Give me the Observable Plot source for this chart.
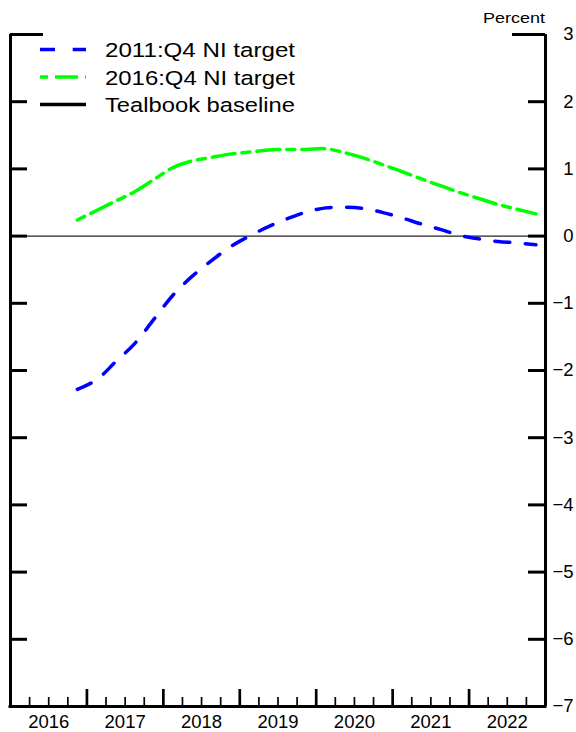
<!DOCTYPE html>
<html>
<head>
<meta charset="utf-8">
<script src="https://cdn.jsdelivr.net/npm/d3@7"></script>
<script src="https://cdn.jsdelivr.net/npm/@observablehq/plot@0.6"></script>
<style>
  html, body { margin: 0; padding: 0; background: #fff; }
  #chart { width: 576px; height: 732px; }
</style>
</head>
<body>
<div id="chart"></div>
<script>
// ---- Data ----
const quarters = [
  "2016Q4",
  "2017Q1","2017Q2","2017Q3","2017Q4",
  "2018Q1","2018Q2","2018Q3","2018Q4",
  "2019Q1","2019Q2","2019Q3","2019Q4",
  "2020Q1","2020Q2","2020Q3","2020Q4",
  "2021Q1","2021Q2","2021Q3","2021Q4",
  "2022Q1","2022Q2","2022Q3","2022Q4"
];
const ni2011 = [-2.28,-2.14,-1.87,-1.60,-1.24,-0.88,-0.60,-0.37,-0.16,0.00,0.14,0.26,0.36,0.42,0.43,0.41,0.35,0.27,0.18,0.10,0.01,-0.04,-0.08,-0.10,-0.13];
const ni2016 = [0.24,0.38,0.52,0.66,0.84,1.02,1.12,1.17,1.22,1.25,1.28,1.29,1.29,1.30,1.24,1.16,1.06,0.96,0.85,0.75,0.65,0.56,0.47,0.40,0.33];
const tealbookBaseline = [0];
const years = [2016, 2017, 2018, 2019, 2020, 2021, 2022];
const yTicks = [-7, -6, -5, -4, -3, -2, -1, 0, 1, 2, 3];
const seriesNames = ["2011:Q4 NI target", "2016:Q4 NI target", "Tealbook baseline"];
const seriesColors = ["#0000ff", "#00ff00", "#000000"];
const unitLabel = "Percent";

// ---- Layout ----
const W = 576, H = 732;
const mL = 10, mR = 31, mT = 34, mB = 26;
const plotW = W - mL - mR, plotH = H - mT - mB;
const FONT = "'Liberation Sans', Arial, Helvetica, sans-serif";

const qToX = q => { const [y, qq] = q.split("Q"); return +y + (+qq - 0.5) / 4; };
const blueRows = quarters.map((q, i) => ({x: qToX(q), v: ni2011[i]}));
const greenRows = quarters.map((q, i) => ({x: qToX(q), v: ni2016[i]}));

const domainX = [years[0], years[years.length - 1] + 1];
const quarterTicks = years.flatMap(y => [y + 0.25, y + 0.5, y + 0.75]);
const yearBounds = years.slice(1);
const innerY = yTicks.filter(v => v > yTicks[0] && v < yTicks[yTicks.length - 1]);
const topY = [yTicks[yTicks.length - 1]];
const fmt = d => d < 0 ? "\u2212" + Math.abs(d) : String(d);

const chart = Plot.plot({
  width: W, height: H,
  marginLeft: mL, marginRight: mR, marginTop: mT, marginBottom: mB,
  x: {domain: domainX, axis: null},
  y: {domain: [yTicks[0], yTicks[yTicks.length - 1]], axis: null},
  style: {fontFamily: FONT, background: "white", color: "black", overflow: "visible"},
  marks: [
    Plot.ruleY(tealbookBaseline, {y: d => d, stroke: "#222", strokeWidth: 1.2}),
    Plot.line(blueRows, {x: "x", y: "v", stroke: seriesColors[0], strokeWidth: 3.5, strokeDasharray: "15,15.5", curve: "catmull-rom"}),
    Plot.line(greenRows, {x: "x", y: "v", stroke: seriesColors[1], strokeWidth: 3.5, strokeDasharray: "8,7,23,7", curve: "catmull-rom"}),
    // y ticks (inward) on both sides
    Plot.tickY(innerY, {y: d => d, stroke: "black", strokeWidth: 3, insetRight: plotW - 17}),
    Plot.tickY(topY, {y: d => d, stroke: "black", strokeWidth: 3, insetRight: plotW - 33}),
    Plot.tickY(innerY, {y: d => d, stroke: "black", strokeWidth: 3, insetLeft: plotW - 17}),
    Plot.tickY(topY, {y: d => d, stroke: "black", strokeWidth: 3, insetLeft: plotW - 33}),
    // x ticks
    Plot.tickX(quarterTicks, {x: d => d, stroke: "black", strokeWidth: 1.7, insetTop: plotH - 9}),
    Plot.tickX(yearBounds, {x: d => d, stroke: "black", strokeWidth: 2.7, insetTop: plotH - 17}),
    // frame (left, right, bottom)
    Plot.ruleX(domainX, {x: d => d, stroke: "black", strokeWidth: 3}),
    Plot.ruleY([yTicks[0]], {y: d => d, stroke: "black", strokeWidth: 3, strokeLinecap: "square"}),
    // labels
    Plot.text(years, {x: d => d + 0.5, frameAnchor: "bottom", dy: 16, text: d => String(d), fontSize: 18.5, lineAnchor: "middle", fill: "black"}),
    Plot.text(yTicks, {y: d => d, frameAnchor: "right", dx: 28, textAnchor: "end", text: fmt, fontSize: 18.5, lineAnchor: "middle", fill: "black"})
  ]
});

document.getElementById("chart").appendChild(chart);

// ---- Legend & unit label ----
const svg = d3.select(chart);
const dashes = ["15,17.7", "8,7,23,7", null];
const lg = svg.append("g").attr("font-family", FONT).attr("text-anchor", "start");
seriesNames.forEach((name, i) => {
  const yb = 57.3 + i * 27.5;
  const ln = lg.append("line")
    .attr("x1", 40).attr("x2", 86)
    .attr("y1", yb - 7.8).attr("y2", yb - 7.8)
    .attr("stroke", seriesColors[i]).attr("stroke-width", 3.5);
  if (dashes[i]) ln.attr("stroke-dasharray", dashes[i]);
  lg.append("text")
    .attr("x", 105).attr("y", yb)
    .attr("text-anchor", "start")
    .attr("font-size", 20.5)
    .attr("fill", "black")
    .attr("textLength", 190)
    .attr("lengthAdjust", "spacingAndGlyphs")
    .text(name);
});
svg.append("text")
  .attr("x", 483).attr("y", 22.7)
  .attr("text-anchor", "start")
  .attr("font-family", FONT)
  .attr("font-size", 15.5)
  .attr("fill", "black")
  .attr("textLength", 62)
  .attr("lengthAdjust", "spacingAndGlyphs")
  .text(unitLabel);
</script>
</body>
</html>
